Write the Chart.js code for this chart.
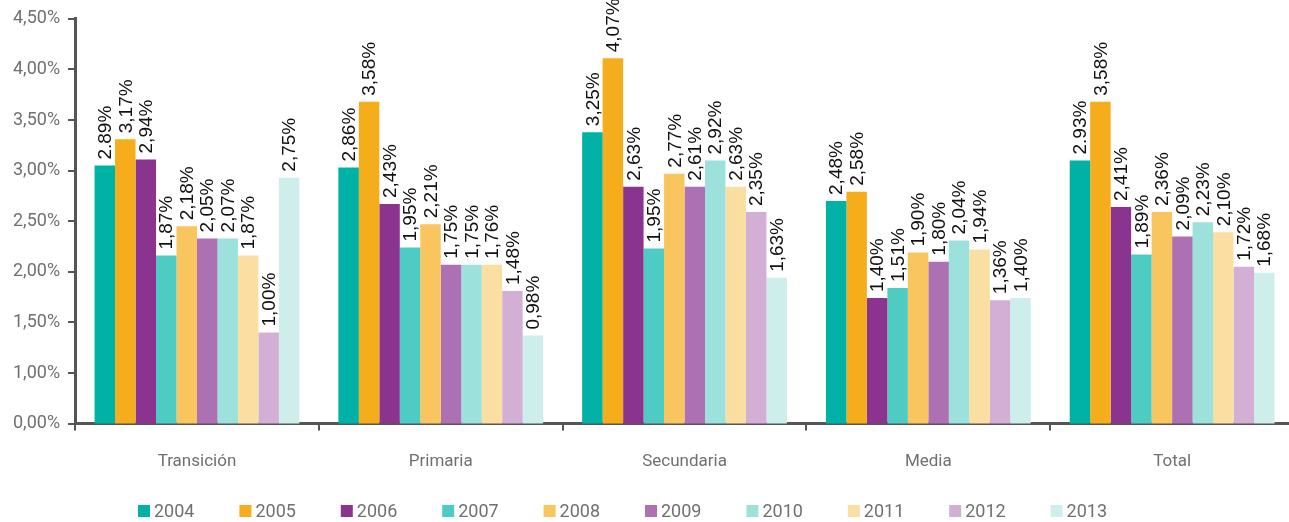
<!DOCTYPE html>
<html>
<head>
<meta charset="utf-8">
<script src="https://cdn.jsdelivr.net/npm/chart.js"></script>
<style>
  html, body { margin: 0; padding: 0; background: #fff; overflow: hidden; }
  #wrap { width: 1294px; height: 522px; }
</style>
</head>
<body>
<div id="wrap"><canvas id="chart"></canvas></div>
<script>
const categories = ['Transición', 'Primaria', 'Secundaria', 'Media', 'Total'];
const years = ['2004', '2005', '2006', '2007', '2008', '2009', '2010', '2011', '2012', '2013'];
const yTickLabels = ['0,00%', '1,00%', '1,50%', '2,00%', '2,50%', '3,00%', '3,50%', '4,00%', '4,50%'];

// bar heights as read against the printed axis
const v2004 = [3.05, 3.03, 3.38, 2.70, 3.10];
const v2005 = [3.31, 3.68, 4.11, 2.79, 3.68];
const v2006 = [3.11, 2.67, 2.84, 1.74, 2.64];
const v2007 = [2.16, 2.24, 2.23, 1.84, 2.17];
const v2008 = [2.45, 2.47, 2.97, 2.19, 2.59];
const v2009 = [2.33, 2.07, 2.84, 2.10, 2.35];
const v2010 = [2.33, 2.07, 3.10, 2.31, 2.49];
const v2011 = [2.16, 2.07, 2.84, 2.22, 2.39];
const v2012 = [1.40, 1.81, 2.59, 1.72, 2.05];
const v2013 = [2.93, 1.37, 1.94, 1.74, 1.99];

// printed value labels
const l2004 = ['2.89%', '2,86%', '3,25%', '2,48%', '2.93%'];
const l2005 = ['3,17%', '3,58%', '4,07%', '2,58%', '3,58%'];
const l2006 = ['2,94%', '2,43%', '2,63%', '1,40%', '2,41%'];
const l2007 = ['1,87%', '1,95%', '1,95%', '1,51%', '1,89%'];
const l2008 = ['2,18%', '2,21%', '2,77%', '1,90%', '2,36%'];
const l2009 = ['2,05%', '1,75%', '2,61%', '1,80%', '2,09%'];
const l2010 = ['2,07%', '1,75%', '2,92%', '2,04%', '2,23%'];
const l2011 = ['1,87%', '1,76%', '2,63%', '1,94%', '2,10%'];
const l2012 = ['1,00%', '1,48%', '2,35%', '1,36%', '1,72%'];
const l2013 = ['2,75%', '0,98%', '1,63%', '1,40%', '1,68%'];

const colors = ['#00b2a5', '#f5ad1c', '#8b348f', '#4ecbc2', '#f9c55e',
                '#ad70b2', '#9de1dc', '#fbdfa2', '#d3afd6', '#ceeeeb'];

const values = [v2004, v2005, v2006, v2007, v2008, v2009, v2010, v2011, v2012, v2013];
const labels = [l2004, l2005, l2006, l2007, l2008, l2009, l2010, l2011, l2012, l2013];

const axisFont = { family: 'Roboto', size: 18 };
const gray = '#707070';

const valueLabels = {
  id: 'valueLabels',
  afterDatasetsDraw(chart) {
    const ctx = chart.ctx;
    ctx.save();
    ctx.font = '19px "Liberation Sans", Arial, sans-serif';
    ctx.fillStyle = '#111';
    ctx.textAlign = 'left';
    ctx.textBaseline = 'middle';
    chart.data.datasets.forEach((ds, i) => {
      chart.getDatasetMeta(i).data.forEach((bar, j) => {
        ctx.save();
        ctx.translate(bar.x + 1, bar.y - 6);
        ctx.rotate(-Math.PI / 2);
        ctx.fillText(labels[i][j], 0, 0);
        ctx.restore();
      });
    });
    ctx.restore();
  }
};

// legend drawn by hand so the row can sit low and spread out like the original
const bottomLegend = {
  id: 'bottomLegend',
  afterDraw(chart) {
    const ctx = chart.ctx;
    const pitch = 101.4;
    const startX = 138;
    const cy = 511;
    ctx.save();
    ctx.font = '18px Roboto';
    ctx.textBaseline = 'middle';
    ctx.textAlign = 'left';
    chart.data.datasets.forEach((ds, i) => {
      const x = startX + i * pitch;
      ctx.fillStyle = ds.backgroundColor;
      ctx.fillRect(x, cy - 6, 12, 12);
      ctx.fillStyle = gray;
      ctx.fillText(ds.label, x + 16, cy + 1);
    });
    ctx.restore();
  }
};

new Chart(document.getElementById('chart'), {
  type: 'bar',
  data: {
    labels: categories,
    datasets: years.map((y, i) => ({
      label: y,
      data: values[i],
      backgroundColor: colors[i],
      borderWidth: 0,
      categoryPercentage: 0.84,
      barPercentage: 1.0
    }))
  },
  options: {
    responsive: true,
    maintainAspectRatio: false,
    animation: false,
    layout: { padding: { top: 6, left: 5, right: 0, bottom: 29 } },
    plugins: {
      tooltip: { enabled: false },
      legend: { display: false }
    },
    scales: {
      x: {
        grid: { drawOnChartArea: false, drawTicks: true, tickLength: 7, color: '#555', lineWidth: 2, offset: true },
        border: { color: '#555', width: 3 },
        ticks: { color: gray, font: { family: 'Roboto', size: 17 }, padding: 21 }
      },
      y: {
        min: 0.5,
        max: 4.5,
        grid: { drawOnChartArea: false, drawTicks: true, tickLength: 7, color: '#555', lineWidth: 2 },
        border: { color: '#555', width: 3 },
        ticks: {
          stepSize: 0.5,
          color: gray,
          font: axisFont,
          padding: 8,
          callback: (v, idx) => yTickLabels[idx]
        }
      }
    }
  },
  plugins: [valueLabels, bottomLegend]
});
</script>
</body>
</html>
